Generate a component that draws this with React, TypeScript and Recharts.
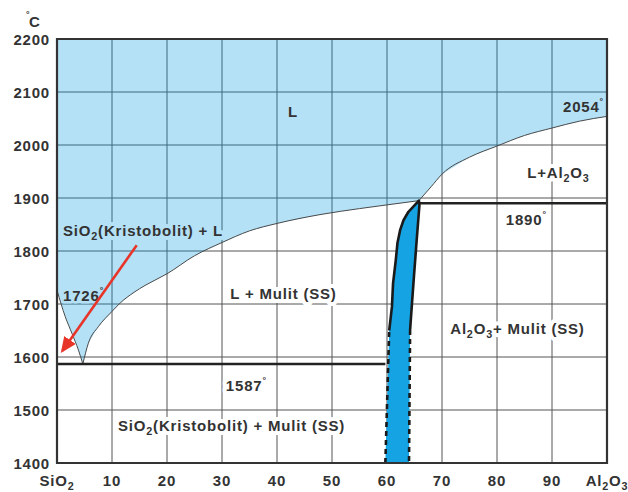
import React from 'react';
import {
  ComposedChart,
  Area,
  Line,
  XAxis,
  YAxis,
  CartesianGrid,
  ReferenceLine,
  ReferenceDot,
  ReferenceArea,
} from 'recharts';

// Axes: composition (wt% Al2O3, SiO2 at 0 and Al2O3 at 100) and temperature (°C)
const X_TICKS = [0, 10, 20, 30, 40, 50, 60, 70, 80, 90, 100];
const T_TICKS = [1400, 1500, 1600, 1700, 1800, 1900, 2000, 2100, 2200];

// Invariant temperatures
const SIO2_MELT = 1726;
const EUTECTIC_T = 1587;
const MULLITE_T = 1890;
const AL2O3_MELT = 2054;

// Liquidus, cristobalite branch
const LIQ_SIO2_X = [0, 1.5, 2.7, 3.9, 4.7];
const LIQ_SIO2_T = [SIO2_MELT, 1676, 1645, 1613, EUTECTIC_T];

// Liquidus, mullite branch
const LIQ_MUL_X = [4.7, 5.7, 7.5, 10, 11.5, 14, 16, 20, 25, 30, 35, 40, 48, 55, 60, 65.8];
const LIQ_MUL_T = [EUTECTIC_T, 1626, 1657, 1686, 1702, 1722, 1735, 1757, 1791, 1816, 1838, 1852, 1869, 1880, 1887, 1895];

// Liquidus, corundum branch
const LIQ_AL_X = [65.8, 68, 70, 75, 80, 85, 90, 95, 100];
const LIQ_AL_T = [1895, 1921, 1945, 1977, 1998, 2018, 2032, 2045, AL2O3_MELT];

// Mullite solid-solution field (left edge upwards, right edge downwards)
const MUL_LEFT_X = [59.7, 60.4, 60.9, 61.1, 61.6, 61.9, 62.4, 63.0, 63.9, 65.8];
const MUL_LEFT_T = [1400, 1650, 1695, 1739, 1783, 1815, 1840, 1858, 1874, 1895];
const MUL_RIGHT_X = [65.8, 65.9, 65.4, 64.9, 64.5, 64.2, 64.0];
const MUL_RIGHT_T = [1895, 1887, 1821, 1752, 1695, 1651, 1400];

// Horizontal invariant lines (x range)
const EUTECTIC_X = [0, 59.7];
const MULLITE_LINE_X = [66, 100];

// Pointer to the SiO2 + L field
const ARROW_X = [14.5, 1.0];
const ARROW_T = [1811, 1612];

const rows = (xs: number[], ts: number[]) => xs.map((x, i) => ({ x, t: ts[i] }));

const liqSio2 = rows(LIQ_SIO2_X, LIQ_SIO2_T);
const liqMul = rows(LIQ_MUL_X, LIQ_MUL_T);
const liqAl = rows(LIQ_AL_X, LIQ_AL_T);
const liquidus = [...liqSio2, ...liqMul.slice(1), ...liqAl.slice(1)];

const mulLeft = rows(MUL_LEFT_X, MUL_LEFT_T);
const mulRight = rows(MUL_RIGHT_X, MUL_RIGHT_T);
const mulliteField = [...mulLeft, ...mulRight.slice(1)];
const mulliteSolid = [...mulLeft.slice(1), ...mulRight.slice(1, mulRight.length - 1)];
const mulliteDashLeft = mulLeft.slice(0, 2);
const mulliteDashRight = mulRight.slice(mulRight.length - 2);

const arrow = rows(ARROW_X, ARROW_T);

const FONT = "'Liberation Sans', Arial, Helvetica, sans-serif";
const INK = '#333333';
// Liquid field: a translucent blue that reads as #b4e1f6 over white and lets the grid show through
const LIQUID_FILL = '#059be1';
const LIQUID_OPACITY = 0.3;
const LIGHT_BLUE = '#b4e1f6';
const MULLITE_BLUE = '#15a3e3';
const GRID = '#555555';
const RED = '#e8352a';

// Text with _n subscripts and ° superscripts
function rich(s: string, size: number) {
  const parts = s.split(/(_\d|°)/).filter(Boolean);
  let shift = 0;
  return parts.map((p, i) => {
    if (p.startsWith('_')) {
      const el = (
        <tspan key={i} fontSize={size * 0.72} dy={4 - shift}>
          {p.slice(1)}
        </tspan>
      );
      shift = 4;
      return el;
    }
    if (p === '°') {
      const el = (
        <tspan key={i} fontSize={size * 0.6} dy={-8 - shift}>
          °
        </tspan>
      );
      shift = -8;
      return el;
    }
    const el = (
      <tspan key={i} dy={-shift}>
        {p}
      </tspan>
    );
    shift = 0;
    return el;
  });
}

type FieldLabel = {
  text: string;
  x: number;
  t: number;
  anchor?: 'start' | 'middle' | 'end';
  halo?: string;
  haloWidth?: number;
};

const FIELD_LABELS: FieldLabel[] = [
  { text: 'L', x: 42.9, t: 2053, anchor: 'middle' },
  { text: `${AL2O3_MELT}°`, x: 92.0, t: 2062 },
  { text: 'L+Al_2O_3', x: 85.5, t: 1938, halo: '#ffffff' },
  { text: `${MULLITE_T}°`, x: 81.6, t: 1849, halo: '#ffffff' },
  { text: 'SiO_2(Kristobolit) + L', x: 1.1, t: 1828, halo: LIGHT_BLUE },
  { text: `${SIO2_MELT}°`, x: 1.1, t: 1706, halo: LIGHT_BLUE, haloWidth: 5 },
  { text: 'L + Mulit (SS)', x: 31.5, t: 1709, halo: '#ffffff' },
  { text: 'Al_2O_3+ Mulit (SS)', x: 71.5, t: 1643, halo: '#ffffff' },
  { text: `${EUTECTIC_T}°`, x: 30.7, t: 1536, halo: '#ffffff' },
  { text: 'SiO_2(Kristobolit) + Mulit (SS)', x: 11.1, t: 1460, halo: '#ffffff' },
];

const renderFieldLabel = (lab: FieldLabel) => (props: any) => {
  const vb = props.viewBox || {};
  const size = 15;
  const common = {
    x: vb.x,
    y: vb.y,
    textAnchor: lab.anchor ?? 'start',
    fontFamily: FONT,
    fontWeight: 'bold' as const,
    fontSize: size,
    letterSpacing: 0.8,
  };
  return (
    <g>
      {lab.halo && (
        <text
          {...common}
          fill={lab.halo}
          stroke={lab.halo}
          strokeWidth={lab.haloWidth ?? 8}
          strokeLinejoin="round"
        >
          {rich(lab.text, size)}
        </text>
      )}
      <text {...common} fill={INK}>
        {rich(lab.text, size)}
      </text>
    </g>
  );
};

const XTick = (props: any) => {
  const { x, y, payload } = props;
  const v = payload.value;
  const text = v === 0 ? 'SiO_2' : v === 100 ? 'Al_2O_3' : String(v);
  return (
    <text
      x={x}
      y={y + 23}
      textAnchor="middle"
      fontFamily={FONT}
      fontWeight="bold"
      fontSize={15}
      letterSpacing={0.8}
      fill={INK}
    >
      {rich(text, 15)}
    </text>
  );
};

const YTick = (props: any) => {
  const { x, y, payload } = props;
  return (
    <text
      x={x - 7}
      y={y + 6}
      textAnchor="end"
      fontFamily={FONT}
      fontWeight="bold"
      fontSize={15}
      letterSpacing={0.8}
      fill={INK}
    >
      {payload.value}
    </text>
  );
};

export default function App() {
  return (
    <div style={{ position: 'absolute', left: 0, top: 0, width: 628, height: 492, background: '#ffffff' }}>
      <ComposedChart width={628} height={492} margin={{ top: 39, right: 21, bottom: 0, left: 7 }}>
        <defs>
          <marker
            id="arrowHead"
            markerUnits="userSpaceOnUse"
            markerWidth={17}
            markerHeight={15}
            refX={13}
            refY={7}
            orient="auto"
          >
            <path d="M0,0 L16,7 L0,14 Z" fill={RED} />
          </marker>
        </defs>

        <XAxis
          dataKey="x"
          type="number"
          domain={[0, 100]}
          ticks={X_TICKS}
          interval={0}
          allowDataOverflow
          tickLine={false}
          axisLine={false}
          tickSize={0}
          tickMargin={0}
          height={29}
          tick={<XTick />}
        />
        <YAxis
          dataKey="t"
          type="number"
          domain={[1400, 2200]}
          ticks={T_TICKS}
          interval={0}
          allowDataOverflow
          tickLine={false}
          axisLine={false}
          tickSize={0}
          tickMargin={0}
          width={50}
          tick={<YTick />}
        />

        <CartesianGrid stroke={GRID} strokeWidth={1} strokeOpacity={1} />

        {/* Liquid field above the liquidus */}
        <Area
          data={liquidus}
          dataKey="t"
          type="linear"
          baseValue={2200}
          fill={LIQUID_FILL}
          fillOpacity={LIQUID_OPACITY}
          stroke="none"
          isAnimationActive={false}
        />

        {/* Mullite solid-solution field */}
        <Area
          data={mulliteField}
          dataKey="t"
          type="linear"
          baseValue={1400}
          fill={MULLITE_BLUE}
          fillOpacity={1}
          stroke="none"
          isAnimationActive={false}
        />

        {/* Liquidus curves */}
        <Line data={liqSio2} dataKey="t" type="monotone" stroke="#4a4a4a" strokeWidth={1} dot={false} activeDot={false} isAnimationActive={false} />
        <Line data={liqMul} dataKey="t" type="monotone" stroke="#4a4a4a" strokeWidth={1} dot={false} activeDot={false} isAnimationActive={false} />
        <Line data={liqAl} dataKey="t" type="monotone" stroke="#4a4a4a" strokeWidth={1} dot={false} activeDot={false} isAnimationActive={false} />

        {/* Mullite field boundaries */}
        <Line data={mulliteSolid} dataKey="t" type="linear" stroke="#1a1a1a" strokeWidth={2.6} strokeLinejoin="round" dot={false} activeDot={false} isAnimationActive={false} />
        <Line data={mulliteDashLeft} dataKey="t" type="linear" stroke="#1a1a1a" strokeWidth={2.6} strokeDasharray="5 4" dot={false} activeDot={false} isAnimationActive={false} />
        <Line data={mulliteDashRight} dataKey="t" type="linear" stroke="#1a1a1a" strokeWidth={2.6} strokeDasharray="5 4" dot={false} activeDot={false} isAnimationActive={false} />

        {/* Invariant lines */}
        <ReferenceLine
          segment={[{ x: EUTECTIC_X[0], y: EUTECTIC_T }, { x: EUTECTIC_X[1], y: EUTECTIC_T }]}
          stroke="#222222"
          strokeWidth={2.5}
        />
        <ReferenceLine
          segment={[{ x: MULLITE_LINE_X[0], y: MULLITE_T }, { x: MULLITE_LINE_X[1], y: MULLITE_T }]}
          stroke="#222222"
          strokeWidth={2.5}
        />

        {FIELD_LABELS.map((lab, i) => (
          <ReferenceDot
            key={i}
            x={lab.x}
            y={lab.t}
            r={0}
            fill="none"
            stroke="none"
            label={{ content: renderFieldLabel(lab) }}
          />
        ))}

        {/* Arrow into the SiO2 + L field */}
        <Line
          data={arrow}
          dataKey="t"
          type="linear"
          stroke={RED}
          strokeWidth={2.6}
          markerEnd="url(#arrowHead)"
          dot={false}
          activeDot={false}
          isAnimationActive={false}
          zIndex={2100}
        />

        {/* Plot frame */}
        <ReferenceArea x1={0} x2={100} y1={1400} y2={2200} fill="none" stroke="#333333" strokeWidth={2.2} zIndex={2200} />

        <text x={26} y={17} fontFamily={FONT} fontWeight="bold" fontSize={9} fill={INK}>
          °
        </text>
        <text x={29} y={27} fontFamily={FONT} fontWeight="bold" fontSize={15} fill={INK}>
          C
        </text>
      </ComposedChart>
    </div>
  );
}
